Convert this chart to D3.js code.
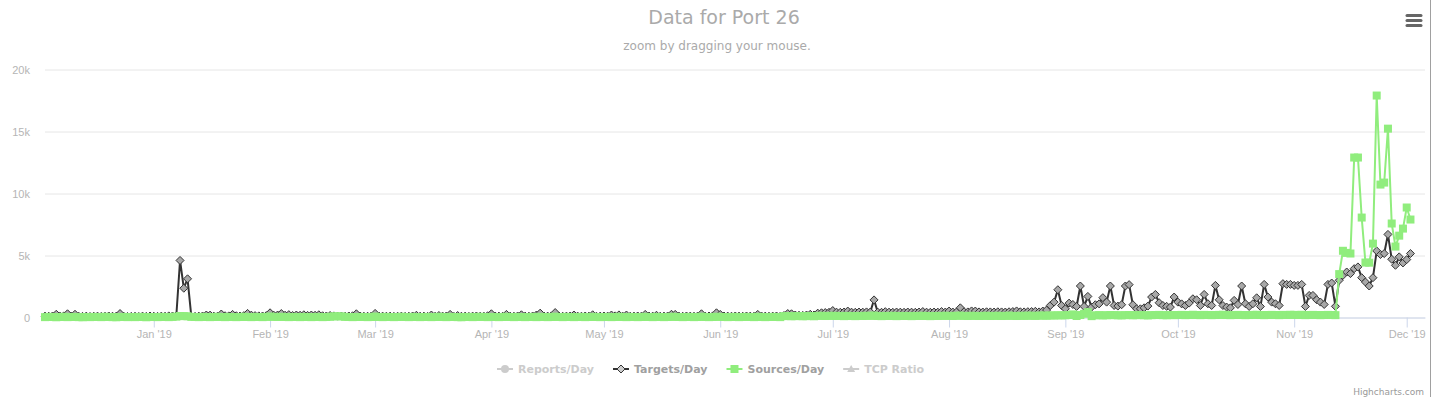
<!DOCTYPE html>
<html>
<head>
<meta charset="utf-8">
<script src="https://cdn.jsdelivr.net/npm/d3@7"></script>
<style>
  body { margin: 0; background: #fff; }
  svg { display: block; font-family: "DejaVu Sans", "Lucida Grande", Verdana, sans-serif; }
</style>
</head>
<body>
<div id="chart"></div>
<script>
// first day of data, one value per day after that
const firstDay = Date.UTC(2018, 11, 3);

// Targets/Day, one array per month
const targetsDec18 = [110, 100, 120, 260, 110, 130, 300, 120, 260, 100, 90, 110, 80, 100, 110, 90, 100, 120, 100, 110, 320, 100, 80, 90, 100, 80, 110, 90, 120];
const targetsJan = [100, 90, 110, 100, 130, 120, 120, 4600, 2360, 3120, 100, 90, 110, 120, 200, 190, 110, 100, 280, 140, 130, 250, 140, 120, 150, 330, 190, 150, 130, 120, 150];
const targetsFeb = [380, 180, 200, 320, 180, 230, 160, 200, 180, 220, 170, 200, 180, 220, 140, 120, 160, 130, 110, 120, 100, 120, 140, 300, 120, 100, 100, 120];
const targetsMar = [330, 120, 110, 100, 110, 90, 100, 110, 90, 100, 120, 180, 100, 110, 90, 200, 100, 160, 110, 120, 250, 90, 160, 100, 110, 90, 110, 120, 100, 100, 140];
const targetsApr = [300, 120, 110, 100, 250, 110, 100, 120, 220, 110, 100, 120, 200, 350, 120, 110, 130, 400, 120, 100, 110, 120, 200, 110, 100, 120, 110, 220, 100, 110];
const targetsMay = [120, 110, 200, 130, 210, 110, 200, 100, 110, 120, 110, 250, 120, 110, 180, 100, 110, 120, 260, 250, 110, 100, 120, 110, 100, 120, 300, 110, 120, 130, 380];
const targetsJun = [250, 120, 110, 100, 120, 110, 100, 120, 110, 100, 250, 120, 110, 100, 110, 120, 100, 160, 320, 300, 200, 180, 170, 200, 260, 200, 350, 380, 400, 420];
const targetsJul = [560, 430, 420, 440, 520, 430, 420, 440, 430, 450, 440, 1420, 430, 420, 470, 430, 420, 440, 430, 420, 440, 430, 420, 440, 480, 430, 420, 440, 430, 480, 440];
const targetsAug = [520, 440, 450, 780, 460, 450, 530, 520, 450, 440, 460, 450, 440, 460, 450, 440, 460, 480, 530, 460, 450, 470, 480, 500, 450, 520, 600, 970, 1240, 2240, 970];
const targetsSep = [700, 1160, 1050, 890, 2540, 890, 1700, 840, 1030, 1100, 1600, 1240, 2540, 970, 920, 1030, 2540, 2650, 1030, 700, 700, 780, 920, 1650, 1860, 1190, 970, 900, 840, 1650];
const targetsOct = [1240, 1100, 970, 1160, 1510, 1430, 970, 1860, 1110, 970, 2590, 1430, 970, 840, 780, 1380, 1050, 2540, 1110, 890, 1110, 1590, 890, 2670, 1650, 1240, 1110, 970, 2730, 2670, 2670];
const targetsNov = [2590, 2590, 2670, 890, 1780, 1780, 1430, 1240, 1050, 2670, 2780, 900, 3000, 3400, 3670, 3540, 3940, 4080, 3210, 2860, 2540, 3210, 5370, 5080, 5160, 6700, 4700, 4210, 4890, 4400];
const targetsDec19 = [4670, 5160];

// Sources/Day, one array per month
const sourcesDec18 = [30, 50, 40, 20, 40, 60, 30, 40, 50, 30, 20, 40, 30, 50, 40, 30, 60, 40, 30, 20, 40, 50, 30, 40, 30, 50, 40, 20, 40];
const sourcesJan = [40, 30, 50, 40, 30, 50, 70, 120, 110, 100, 50, 40, 30, 50, 40, 30, 40, 60, 40, 30, 50, 40, 30, 40, 60, 40, 30, 50, 40, 30, 50];
const sourcesFeb = [80, 50, 40, 60, 40, 30, 50, 40, 30, 50, 40, 30, 40, 50, 30, 40, 60, 90, 100, 90, 50, 40, 30, 40, 50, 40, 30, 40];
const sourcesMar = [80, 40, 30, 50, 40, 30, 40, 60, 40, 30, 50, 40, 30, 40, 50, 30, 40, 60, 40, 30, 50, 40, 30, 20, 40, 50, 30, 40, 60, 40, 30];
const sourcesApr = [50, 40, 30, 40, 60, 40, 30, 50, 40, 30, 40, 50, 30, 60, 40, 30, 40, 70, 40, 30, 50, 40, 30, 40, 50, 30, 40, 60, 40, 30];
const sourcesMay = [40, 50, 30, 40, 60, 40, 30, 50, 40, 30, 40, 60, 40, 30, 50, 40, 30, 40, 60, 50, 40, 30, 40, 50, 30, 40, 70, 40, 30, 40, 60];
const sourcesJun = [50, 40, 30, 40, 50, 30, 40, 50, 40, 30, 60, 40, 30, 40, 50, 40, 30, 110, 120, 100, 110, 120, 100, 110, 120, 100, 130, 140, 120, 130];
const sourcesJul = [140, 120, 130, 110, 130, 120, 110, 130, 120, 140, 130, 160, 120, 110, 130, 120, 140, 110, 120, 130, 120, 110, 130, 120, 140, 120, 110, 130, 120, 130, 140];
const sourcesAug = [130, 120, 140, 150, 130, 120, 140, 130, 120, 130, 140, 120, 130, 140, 120, 130, 150, 130, 120, 140, 130, 150, 140, 130, 150, 160, 140, 170, 160, 180, 170];
const sourcesSep = [180, 200, 250, 120, 200, 300, 430, 110, 180, 190, 170, 180, 200, 190, 180, 170, 190, 200, 180, 190, 200, 180, 170, 190, 200, 210, 190, 180, 200, 190];
const sourcesOct = [200, 210, 190, 200, 220, 200, 190, 210, 200, 190, 200, 210, 220, 200, 190, 200, 210, 200, 190, 200, 210, 220, 200, 190, 200, 210, 200, 190, 210, 200, 220];
const sourcesNov = [210, 200, 220, 190, 200, 210, 200, 190, 200, 210, 200, 190, 3500, 5380, 5210, 5160, 12900, 12900, 8060, 4430, 4420, 5960, 17900, 10720, 10880, 15230, 7580, 5720, 6600, 7170];
const sourcesDec19 = [8870, 7900];

const yTicks = [0, 5000, 10000, 15000, 20000];
const legendNames = ['Reports/Day', 'Targets/Day', 'Sources/Day', 'TCP Ratio'];
const legendVisible = [false, true, true, false];

const width = 1434, height = 397;
const plotLeft = 45, plotRight = 1425, plotTop = 69.5, plotBottom = 317.5;

const targets = [].concat(targetsDec18, targetsJan, targetsFeb, targetsMar, targetsApr, targetsMay,
  targetsJun, targetsJul, targetsAug, targetsSep, targetsOct, targetsNov, targetsDec19);
const sources = [].concat(sourcesDec18, sourcesJan, sourcesFeb, sourcesMar, sourcesApr, sourcesMay,
  sourcesJun, sourcesJul, sourcesAug, sourcesSep, sourcesOct, sourcesNov, sourcesDec19);

const toPoints = arr => arr.map((v, i) => ({ date: d3.utcDay.offset(new Date(firstDay), i), value: v }));
const targetPts = toPoints(targets);
const sourcePts = toPoints(sources);

const svg = d3.select('#chart').append('svg')
  .attr('width', width)
  .attr('height', height);

svg.append('rect').attr('width', width).attr('height', height).attr('fill', '#fff');

// x runs a few days past the last point, as in the original
const x = d3.scaleUtc()
  .domain([new Date(firstDay), new Date(Date.UTC(2019, 11, 5, 21))])
  .range([plotLeft, plotRight]);
const y = d3.scaleLinear().domain([0, 20000]).range([plotBottom, plotTop]);

// y grid + labels
const yAxis = svg.append('g')
  .attr('transform', `translate(${plotLeft},0)`)
  .call(d3.axisLeft(y)
    .tickValues(yTicks)
    .tickSize(-(plotRight - plotLeft))
    .tickPadding(15)
    .tickFormat(v => v === 0 ? '0' : (v / 1000) + 'k'));
yAxis.select('.domain').remove();
yAxis.selectAll('line').attr('stroke', '#e6e6e6');
yAxis.selectAll('text').attr('fill', '#b5b5b5').attr('font-size', 11).attr('font-family', null);

// x axis
const xAxis = svg.append('g')
  .attr('transform', `translate(0,${plotBottom})`)
  .call(d3.axisBottom(x)
    .ticks(d3.utcMonth.every(1))
    .tickSize(10)
    .tickSizeOuter(0)
    .tickPadding(3)
    .tickFormat(d3.utcFormat("%b '%y")));
xAxis.select('.domain').attr('stroke', '#ccd6eb');
xAxis.selectAll('line').attr('stroke', '#ccd6eb');
xAxis.selectAll('text').attr('fill', '#b5b5b5').attr('font-size', 11).attr('font-family', null);

const line = d3.line().x(d => x(d.date)).y(d => y(d.value));

// Targets/Day
svg.append('path')
  .datum(targetPts)
  .attr('fill', 'none')
  .attr('stroke', '#333333')
  .attr('stroke-width', 2)
  .attr('stroke-linejoin', 'round')
  .attr('d', line);
svg.append('g').selectAll('path')
  .data(targetPts)
  .join('path')
  .attr('d', d => {
    const cx = x(d.date), cy = y(d.value), r = 4;
    return `M${cx},${cy - r}L${cx + r},${cy}L${cx},${cy + r}L${cx - r},${cy}Z`;
  })
  .attr('fill', '#a8a8a8')
  .attr('stroke', '#333333')
  .attr('stroke-width', 1);

// Sources/Day
svg.append('path')
  .datum(sourcePts)
  .attr('fill', 'none')
  .attr('stroke', '#90ed7d')
  .attr('stroke-width', 2)
  .attr('stroke-linejoin', 'round')
  .attr('d', line);
svg.append('g').selectAll('rect')
  .data(sourcePts)
  .join('rect')
  .attr('x', d => x(d.date) - 4)
  .attr('y', d => y(d.value) - 4)
  .attr('width', 8)
  .attr('height', 8)
  .attr('fill', '#90ed7d');

// title
svg.append('text')
  .attr('x', 724).attr('y', 24)
  .attr('text-anchor', 'middle')
  .attr('font-size', 19)
  .attr('fill', '#aaaaaa')
  .text('Data for Port 26');
svg.append('text')
  .attr('x', 717).attr('y', 50)
  .attr('text-anchor', 'middle')
  .attr('font-size', 12)
  .attr('fill', '#aaaaaa')
  .text('zoom by dragging your mouse.');

// menu button
const menu = svg.append('g').attr('stroke', '#666').attr('stroke-width', 3).attr('stroke-linecap', 'round');
[15.5, 20.5, 25.5].forEach(yy => {
  menu.append('line').attr('x1', 1407).attr('x2', 1421).attr('y1', yy).attr('y2', yy);
});

// legend
const legend = svg.append('g');
const symbolColors = ['#cccccc', '#333333', '#90ed7d', '#cccccc'];
let lx = 0;
legendNames.forEach((name, i) => {
  const g = legend.append('g');
  const col = legendVisible[i] ? symbolColors[i] : '#cccccc';
  g.append('line').attr('x1', 0).attr('x2', 16).attr('y1', 0).attr('y2', 0)
    .attr('stroke', col).attr('stroke-width', 2);
  if (i === 0) {
    g.append('circle').attr('cx', 8).attr('cy', 0).attr('r', 4).attr('fill', '#cccccc');
  } else if (i === 1) {
    g.append('path').attr('d', 'M8,-4L12,0L8,4L4,0Z').attr('fill', '#cccccc').attr('stroke', '#333').attr('stroke-width', 1);
  } else if (i === 2) {
    g.append('rect').attr('x', 4).attr('y', -4).attr('width', 8).attr('height', 8).attr('fill', '#90ed7d');
  } else {
    g.append('path').attr('d', 'M8,-4L12,3L4,3Z').attr('fill', '#cccccc');
  }
  const t = g.append('text').attr('x', 21).attr('y', 4)
    .attr('font-size', 11).attr('font-weight', 'bold')
    .attr('fill', legendVisible[i] ? '#a0a0a0' : '#cccccc')
    .text(name);
  g.attr('transform', `translate(${lx},0)`);
  lx += 21 + t.node().getComputedTextLength() + 19;
});
legend.attr('transform', `translate(497,369)`);

// credits
svg.append('text')
  .attr('x', 1424).attr('y', 395)
  .attr('text-anchor', 'end')
  .attr('font-size', 9)
  .attr('fill', '#999999')
  .text('Highcharts.com');

// right edge border
svg.append('line')
  .attr('x1', 1430.5).attr('x2', 1430.5).attr('y1', 0).attr('y2', height)
  .attr('stroke', '#a0a0a0');
</script>
</body>
</html>
